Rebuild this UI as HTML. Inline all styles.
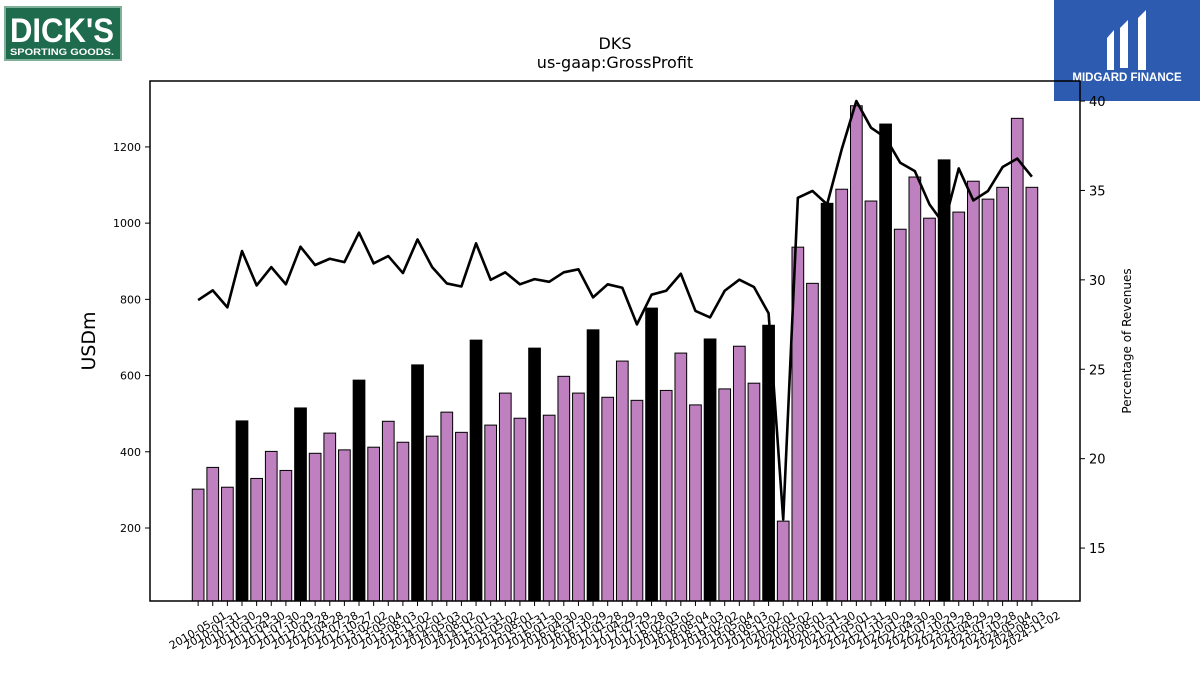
<!DOCTYPE html>
<html><head><meta charset="utf-8"><style>
body{margin:0;background:#fff;}
svg{display:block;font-family:"DejaVu Sans","Liberation Sans",sans-serif;}
</style></head><body>
<svg id="chart" width="1200" height="675" viewBox="0 0 1200 675">
<g>
<rect x="5" y="7" width="116" height="53" fill="#1f6b4e" stroke="#7fb09a" stroke-width="2"/>
<text x="62" y="42" text-anchor="middle" fill="#fff" font-size="34" font-weight="bold" font-family="Liberation Sans Narrow, Liberation Sans, sans-serif" textLength="104" lengthAdjust="spacingAndGlyphs">DICK'S</text>
<text x="62" y="55" text-anchor="middle" fill="#fff" font-size="9" font-weight="bold" font-family="Liberation Sans, sans-serif" textLength="104" lengthAdjust="spacingAndGlyphs">SPORTING GOODS.</text>
</g>
<g>
<rect x="1054" y="0" width="146" height="101" fill="#2c5bb0"/>
<path d="M1107 38 L1114 30 L1114 70 L1107 70 Z M1120 28 L1128 20 L1128 68 L1120 68 Z M1138 18 L1146 10 L1146 70 L1138 70 Z" fill="#fff"/>
<text x="1127" y="81" text-anchor="middle" fill="#fff" font-size="11.5" font-weight="bold" font-family="Liberation Sans, sans-serif">MIDGARD FINANCE</text>
</g>
<text x="615" y="49" text-anchor="middle" font-size="16">DKS</text>
<text x="615" y="68" text-anchor="middle" font-size="16">us-gaap:GrossProfit</text>
<text transform="translate(95,341) rotate(-90)" text-anchor="middle" font-size="19">USDm</text>
<text transform="translate(1131,341) rotate(-90)" text-anchor="middle" font-size="12">Percentage of Revenues</text>
<g id="bars"></g><g id="line"></g><g id="axes"></g>
</svg>
<script>
const dates=["2010-05-01","2010-07-31","2010-10-30","2011-01-29","2011-04-30","2011-07-30","2011-10-29","2012-01-28","2012-04-28","2012-07-28","2012-10-27","2013-02-02","2013-05-04","2013-08-03","2013-11-02","2014-02-01","2014-05-03","2014-08-02","2014-11-01","2015-01-31","2015-05-02","2015-08-01","2015-10-31","2016-01-30","2016-04-30","2016-07-30","2016-10-29","2017-01-28","2017-04-29","2017-07-29","2017-10-28","2018-02-03","2018-05-05","2018-08-04","2018-11-03","2019-02-02","2019-05-04","2019-08-03","2019-11-02","2020-02-01","2020-05-02","2020-08-01","2020-10-31","2021-01-30","2021-05-01","2021-07-31","2021-10-30","2022-01-29","2022-04-30","2022-07-30","2022-10-29","2023-01-28","2023-04-29","2023-07-29","2023-10-28","2024-05-04","2024-08-03","2024-11-02"];
const grossProfit=[302,359,307,481,330,401,351,515,396,449,405,588,412,480,425,628,441,504,451,693,470,554,488,672,496,598,554,720,543,638,535,777,561,659,523,696,565,677,580,732,218,937,842,1052,1089,1308,1058,1260,984,1121,1013,1166,1029,1110,1063,1094,1275,1094];
const pctRevenue=[28.87,29.41,28.46,31.61,29.69,30.71,29.75,31.85,30.83,31.18,30.99,32.64,30.92,31.33,30.38,32.26,30.71,29.80,29.63,32.04,30.0,30.42,29.75,30.04,29.89,30.42,30.59,29.02,29.75,29.56,27.51,29.17,29.39,30.34,28.26,27.90,29.39,30.01,29.60,28.13,16.6,34.59,34.97,34.22,37.30,40.0,38.51,37.95,36.55,36.08,34.22,33.10,36.23,34.44,34.97,36.31,36.78,35.77];
const fiscalQ4=[3,7,11,15,19,23,27,31,35,39,43,47,51];
const leftTicks=[200,400,600,800,1000,1200];
const rightTicks=[15,20,25,30,35,40];
const NS="http://www.w3.org/2000/svg";
const L=150,R=1080,T=81,B=601,n=dates.length;
const xmin=-0.4-0.05*(n-0.2), xmax=(n-1)+0.4+0.05*(n-0.2);
const x=i=>L+(i-xmin)/(xmax-xmin)*(R-L);
const bw=0.8*(R-L)/(xmax-xmin);
const y=v=>B-(v-8.4)/(1373-8.4)*(B-T);
const y2=v=>B-(v-12.04)/(41.12-12.04)*(B-T);
function mk(t,a,p){const e=document.createElementNS(NS,t);for(const k in a)e.setAttribute(k,a[k]);p.appendChild(e);return e;}
const gb=document.getElementById('bars');
grossProfit.forEach((v,i)=>{
const blk=fiscalQ4.includes(i);
const r=mk('rect',{x:x(i)-bw/2,y:y(v),width:bw,height:B-y(v),fill:blk?'#000':'#bf80bf',stroke:'#000','stroke-width':1},gb);


});
const gl=document.getElementById('line');
const pl=mk('polyline',{points:pctRevenue.map((v,i)=>x(i)+','+y2(v)).join(' '),fill:'none',stroke:'#000','stroke-width':2.6,'stroke-linejoin':'round'},gl);


const ga=document.getElementById('axes');
const fr=mk('rect',{x:L,y:T,width:R-L,height:B-T,fill:'none',stroke:'#000','stroke-width':1.5},ga);


leftTicks.forEach(t=>{
mk('line',{x1:L-5,x2:L,y1:y(t),y2:y(t),stroke:'#000'},ga);
const tx=mk('text',{x:L-9,y:y(t)+4,'text-anchor':'end','font-size':11},ga);tx.textContent=t;


});
rightTicks.forEach(t=>{
mk('line',{x1:R,x2:R+5,y1:y2(t),y2:y2(t),stroke:'#000'},ga);
const tx=mk('text',{x:R+9,y:y2(t)+5,'font-size':13},ga);tx.textContent=t;


});
dates.forEach((d,i)=>{
mk('line',{x1:x(i),x2:x(i),y1:B,y2:B+5,stroke:'#000'},ga);
const tx=mk('text',{transform:'translate('+x(i)+','+(B+30)+') rotate(-30)','text-anchor':'middle','dominant-baseline':'middle','font-size':11},ga);tx.textContent=d;


});
</script>
</body></html>
